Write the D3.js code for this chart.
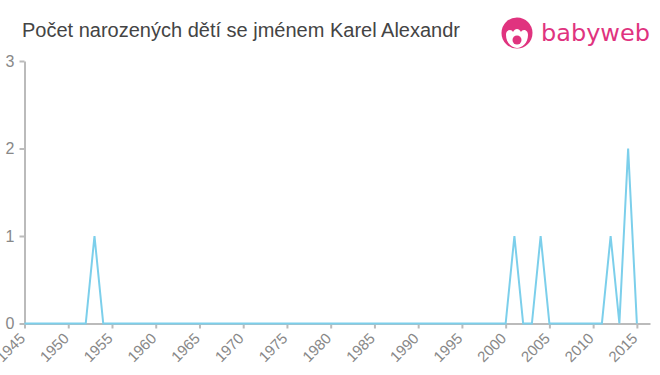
<!DOCTYPE html>
<html>
<head>
<meta charset="utf-8">
<script src="https://cdn.jsdelivr.net/npm/d3@7"></script>
<style>
  body { margin: 0; background: #fff; }
  svg { font-family: "Liberation Sans", Arial, sans-serif; }
</style>
</head>
<body>
<svg id="canvas"></svg>
<script>
let title = "Počet narozených dětí se jménem Karel Alexandr";

let years = d3.range(1945, 2016);
// births per year, 1945..2015
let counts = [
  0, 0, 0, 0, 0, 0, 0, 0, 1, 0, // 1945-1954
  0, 0, 0, 0, 0, 0, 0, 0, 0, 0, // 1955-1964
  0, 0, 0, 0, 0, 0, 0, 0, 0, 0, // 1965-1974
  0, 0, 0, 0, 0, 0, 0, 0, 0, 0, // 1975-1984
  0, 0, 0, 0, 0, 0, 0, 0, 0, 0, // 1985-1994
  0, 0, 0, 0, 0, 0, 1, 0, 0, 1, // 1995-2004
  0, 0, 0, 0, 0, 0, 0, 1, 0, 2, // 2005-2014
  0                              // 2015
];
let xTicks = d3.range(1945, 2016, 5);
let yTicks = [0, 1, 2, 3];

let values = years.map((y, i) => ({ year: y, count: counts[i] }));

let width = 660;
let height = 375;
let font = "'Liberation Sans', Arial, sans-serif";

let canvas = d3.select("#canvas").attr("width", width).attr("height", height);

let xScale = d3.scaleLinear().domain([1945, 2016.5]).range([24.5, 650]);
let yScale = d3.scaleLinear().domain([0, 3]).range([323.5, 61]);

// title
canvas.append("text")
  .attr("x", 22)
  .attr("y", 37)
  .attr("font-size", 20)
  .attr("font-family", font)
  .attr("fill", "#444")
  .text(title);

// logo
let logo = canvas.append("g").attr("transform", "translate(517,33)");
logo.append("circle").attr("r", 15.5).attr("fill", "#e0337f");
logo.append("path")
  .attr("d", "M-11,2 C-11,-4 -5,-4 -4,-1 C-2,-5 2,-5 4,-1 C5,-4 11,-4 11,2 C11,10 5,15 0,15 C-5,15 -11,10 -11,2 Z")
  .attr("fill", "#fff");
logo.append("circle").attr("cx", 0).attr("cy", 7).attr("r", 4.5).attr("fill", "#e0337f");
canvas.append("text")
  .attr("x", 541)
  .attr("y", 41)
  .attr("font-size", 23)
  .attr("font-family", "'DejaVu Sans', sans-serif")
  .attr("textLength", 109)
  .attr("lengthAdjust", "spacingAndGlyphs")
  .attr("fill", "#e0337f")
  .text("babyweb");

// axes
let xAxis = d3.axisBottom(xScale).tickValues(xTicks).tickFormat(d3.format("d")).tickSize(5).tickSizeOuter(0);
let yAxis = d3.axisLeft(yScale).tickValues(yTicks).tickFormat(d3.format("d")).tickSize(5).tickSizeOuter(0);

let gx = canvas.append("g")
  .attr("transform", "translate(0," + yScale(0) + ")")
  .call(xAxis)
  .attr("font-family", font);
gx.select(".domain").attr("stroke", "#bbb").attr("stroke-width", 2);
gx.selectAll(".tick line").attr("stroke", "#bbb").attr("stroke-width", 2);
gx.selectAll(".tick text")
  .attr("font-size", 15)
  .attr("fill", "#888")
  .attr("text-anchor", "end")
  .attr("x", -10.5)
  .attr("y", 12)
  .attr("dy", 0)
  .attr("transform", "rotate(-45)");

let gy = canvas.append("g")
  .attr("transform", "translate(" + xScale(1945) + ",0)")
  .call(yAxis)
  .attr("font-family", font);
gy.select(".domain").attr("stroke", "#bbb").attr("stroke-width", 2);
gy.selectAll(".tick line").attr("stroke", "#bbb").attr("stroke-width", 2);
gy.selectAll(".tick text").attr("font-size", 16).attr("fill", "#888").attr("x", -10);

// line
let line = d3.line()
  .x((d) => xScale(d.year))
  .y((d) => yScale(d.count));

canvas.append("path")
  .datum(values)
  .attr("d", line)
  .attr("fill", "none")
  .attr("stroke", "#7ccfeb")
  .attr("stroke-width", 2);
</script>
</body>
</html>
